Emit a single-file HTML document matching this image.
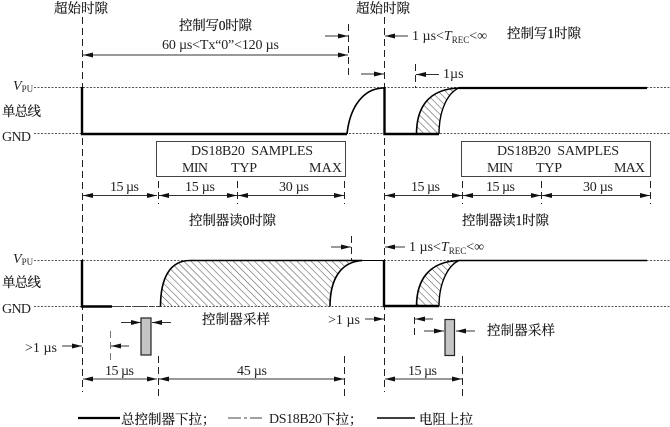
<!DOCTYPE html>
<html><head><meta charset="utf-8">
<style>
html,body{margin:0;padding:0;background:#fff}
svg{display:block}
text{font-family:"Liberation Serif","Noto Serif CJK SC",serif;fill:#222;font-size:14px;white-space:pre}
.z{font-size:13.5px;fill:#111;stroke:#111;stroke-width:.15px}
</style></head>
<body>
<svg width="670" height="427" viewBox="0 0 670 427" xmlns="http://www.w3.org/2000/svg">
<defs>
<pattern id="h" width="5" height="5" patternUnits="userSpaceOnUse" patternTransform="rotate(-45)">
<rect width="5" height="5" fill="#fff"/><line x1="0" y1="0" x2="0" y2="5" stroke="#555" stroke-width="1.1"/>
</pattern>
<marker id="a" viewBox="0 0 10 6" refX="10" refY="3" markerWidth="10" markerHeight="6" markerUnits="userSpaceOnUse" orient="auto-start-reverse">
<path d="M0 .5L10 3L0 5.5z" fill="#111"/>
</marker>
</defs>

<!-- hatch -->
<path d="M416.5 134C416.5 108 428 89 459 88C449 92 439 108 439 134Z" fill="url(#h)"/>
<path d="M416.5 306.5C416.5 281 428 261.5 459 260.5C449 265 439 281 439 306.5Z" fill="url(#h)"/>
<path d="M160.5 306.5C160.5 278 170 260.5 190 260.5L362 260.5C340 262 330 280 330 306.5Z" fill="url(#h)"/>

<!-- dotted -->
<g stroke="#555" stroke-width="1" stroke-dasharray="2 1.5" fill="none">
<path d="M34 87.5H670M34 133.5H670M34 260.5H670M34 306.5H670"/>
</g>

<!-- long dashed -->
<g stroke="#222" stroke-width="1" stroke-dasharray="7 4" fill="none">
<path d="M82.5 17V392M384.5 17V392"/>
<path d="M348.5 24V76M415.5 64V88M351.5 236V260"/>
<path d="M158.5 181V204M237.5 181V204M344.5 181V204"/>
<path d="M462.5 181V204M541.5 181V204M650.5 181V204"/>
<path d="M158.5 356V396M344.5 356V396M462.5 356V396"/>
<path d="M414.5 317V335"/>
<path d="M110.5 331V360" stroke="#777"/>
</g>

<!-- arrows -->
<g stroke="#333" stroke-width="1" fill="none" marker-end="url(#a)">
<path d="M348 55H83" marker-start="url(#a)"/>
<path d="M325 36H348"/>
<path d="M361 74H384"/>
<path d="M408 36H385"/>
<path d="M439 74.5H416"/>
<path d="M331 247H351"/>
<path d="M405 247H385"/>
<path d="M62 346H82"/>
<path d="M129 346H111"/>
<path d="M121 322.5H141"/>
<path d="M171 322.5H152"/>
<path d="M365 319H384"/>
<path d="M433 319H415"/>
<path d="M424 331H444"/>
<path d="M475 331H456"/>
<path d="M83 195.5H157" marker-start="url(#a)"/>
<path d="M159 195.5H237" marker-start="url(#a)"/>
<path d="M238 195.5H344" marker-start="url(#a)"/>
<path d="M385 195.5H462" marker-start="url(#a)"/>
<path d="M463 195.5H541" marker-start="url(#a)"/>
<path d="M542 195.5H650" marker-start="url(#a)"/>
<path d="M83 379H157" marker-start="url(#a)"/>
<path d="M159 379H344" marker-start="url(#a)"/>
<path d="M385 379H462" marker-start="url(#a)"/>
</g>

<!-- waveforms -->
<g fill="none" stroke="#000" stroke-linejoin="miter">
<path d="M82 87V134H347" stroke-width="2.4"/>
<path d="M347 134C350 106 364 88 384 88" stroke-width="1.6"/>
<path d="M384.5 87V134H439" stroke-width="2.4"/>
<path d="M416.5 134C416.5 108 428 89 459 88" stroke-width="1.6"/>
<path d="M439 134C439 108 449 92 459 88" stroke-width="1.4"/>
<path d="M459 88H647" stroke-width="2.2"/>

<path d="M82 260V306.5H112" stroke-width="2.4"/>
<path d="M112 306.5H160" stroke-width="1" stroke="#444" stroke-dasharray="12 3 4 3"/>
<path d="M160.5 306.5C160.5 278 170 260.5 190 260.5H362" stroke-width="1.6"/>
<path d="M330 306.5C330 280 340 262 362 260.5" stroke-width="1.6"/>
<path d="M362 260.5H384" stroke-width="1"/>
<path d="M384 260V306H439" stroke-width="2.4"/>
<path d="M416.5 306.5C416.5 281 428 261.5 459 260.5" stroke-width="1.6"/>
<path d="M439 306.5C439 281 449 265 459 260.5" stroke-width="1.4"/>
<path d="M459 260.5H647" stroke-width="1.6"/>
</g>

<!-- boxes -->
<g fill="none" stroke="#444" stroke-width="1">
<rect x="156.5" y="141.5" width="189" height="35"/>
<rect x="461.5" y="141.5" width="189" height="35"/>
</g>
<rect x="141" y="318" width="10" height="37" fill="#c4c4c4" stroke="#222" stroke-width="1.2"/>
<rect x="445" y="319.5" width="9.5" height="36" fill="#c4c4c4" stroke="#222" stroke-width="1.2"/>

<!-- legend -->
<path d="M78 418H120" stroke="#000" stroke-width="2.2"/>
<path d="M228 418H262" stroke="#444" stroke-width="1" stroke-dasharray="13 3 3 3"/>
<path d="M377 418H415" stroke="#000" stroke-width="1.4"/>

<!-- text -->
<text class="z" x="54" y="13" textLength="54">超始时隙</text>
<text class="z" x="356" y="13" textLength="54">超始时隙</text>
<text class="z" x="179" y="30" textLength="73">控制写0时隙</text>
<text class="z" x="507" y="38" textLength="74">控制写1时隙</text>
<text x="162" y="49" textLength="117">60 µs&lt;Tx“0”&lt;120 µs</text>
<text x="412" y="40">1 µs&lt;<tspan font-style="italic">T</tspan><tspan font-size="9" dy="3">REC</tspan><tspan dy="-3">&lt;∞</tspan></text>
<text x="443" y="78">1µs</text>

<text x="13" y="90" font-style="italic" font-size="14">V<tspan font-size="9" font-style="normal" dy="2">PU</tspan></text>
<text class="z" x="2" y="116" textLength="39">单总线</text>
<text x="2" y="141" textLength="29">GND</text>
<text x="13" y="263" font-style="italic" font-size="14">V<tspan font-size="9" font-style="normal" dy="2">PU</tspan></text>
<text class="z" x="2" y="287" textLength="39">单总线</text>
<text x="2" y="313" textLength="29">GND</text>

<text x="191" y="155" textLength="122">DS18B20  SAMPLES</text>
<text x="182" y="172" textLength="26">MIN</text>
<text x="231" y="172" textLength="26">TYP</text>
<text x="309" y="172" textLength="33">MAX</text>
<text x="497" y="155" textLength="122">DS18B20  SAMPLES</text>
<text x="487" y="172" textLength="26">MIN</text>
<text x="536" y="172" textLength="26">TYP</text>
<text x="614" y="172" textLength="31">MAX</text>

<text x="110" y="191" textLength="29">15 µs</text>
<text x="185" y="191" textLength="30">15 µs</text>
<text x="279" y="191" textLength="30">30 µs</text>
<text x="411" y="191" textLength="29">15 µs</text>
<text x="486" y="191" textLength="29">15 µs</text>
<text x="583" y="191" textLength="30">30 µs</text>

<text class="z" x="189" y="225" textLength="87">控制器读0时隙</text>
<text class="z" x="462" y="225" textLength="87">控制器读1时隙</text>
<text x="409" y="251">1 µs&lt;<tspan font-style="italic">T</tspan><tspan font-size="9" dy="3">REC</tspan><tspan dy="-3">&lt;∞</tspan></text>

<text class="z" x="202" y="324" textLength="68">控制器采样</text>
<text class="z" x="487" y="335" textLength="68">控制器采样</text>
<text x="328" y="324" textLength="32">&gt;1 µs</text>
<text x="25" y="352" textLength="32">&gt;1 µs</text>
<text x="105" y="375" textLength="29">15 µs</text>
<text x="237" y="375" textLength="30">45 µs</text>
<text x="408" y="375" textLength="29">15 µs</text>

<text class="z" x="121" y="424">总控制器下拉；</text>
<text x="269" y="423" textLength="53">DS18B20</text>
<text class="z" x="322" y="424">下拉；</text>
<text class="z" x="419" y="424" textLength="54">电阻上拉</text>
</svg>
</body></html>
